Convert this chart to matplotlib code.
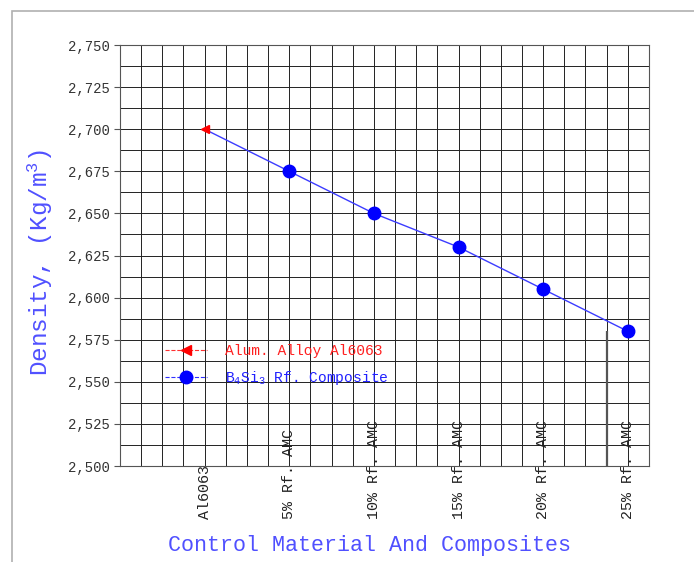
"""
Density of Al6063 and B4Si3 reinforced composites.
"""

import matplotlib
matplotlib.use("Agg")
import matplotlib.pyplot as plt
from matplotlib.patches import Rectangle
from matplotlib.ticker import FuncFormatter
from matplotlib.transforms import blended_transform_factory

# data
categories = ["Al6063", "5% Rf. AMC", "10% Rf. AMC", "15% Rf. AMC",
              "20% Rf. AMC", "25% Rf. AMC"]
cat_pos = [4, 8, 12, 16, 20, 24]
density = [2700, 2675, 2650, 2630, 2605, 2580]  # kg/m3
y_ticks = [2500, 2525, 2550, 2575, 2600, 2625, 2650, 2675, 2700, 2725, 2750]

plt.rcParams["font.family"] = ["Liberation Mono", "DejaVu Sans Mono"]
plt.rcParams["mathtext.default"] = "regular"

fig = plt.figure(figsize=(6.94, 5.62), dpi=100)
ax = fig.add_axes([0.1729, 0.1708, 0.7622, 0.7491])

# outer frame of the drawing
fig.patches.append(Rectangle((12 / 694, -0.1), 1.2, (562 - 11) / 562 + 0.1,
                             transform=fig.transFigure, fill=False,
                             edgecolor="#b0b0b0", lw=1.2))

ax.set_xlim(0, 25)
ax.set_ylim(2500, 2750)
ax.set_xticks(range(0, 26))
ax.set_xticklabels([])
ax.tick_params(axis="x", length=0)
ax.set_yticks(y_ticks)
ax.set_yticks([v + 12.5 for v in y_ticks[:-1]], minor=True)
ax.yaxis.set_major_formatter(FuncFormatter(lambda v, p: "{:,.0f}".format(v)))
ax.tick_params(axis="y", which="major", length=4, color="#555555",
               labelsize=10, labelcolor="#333333")
ax.tick_params(axis="y", which="minor", length=0)
ax.grid(True, which="both", color="#222222", lw=0.7)
ax.set_axisbelow(True)
for s in ax.spines.values():
    s.set_color("#555555")
    s.set_linewidth(0.8)

# stray dimension line
ax.vlines(23, 2500, density[-1], color="#555555", lw=1.6, zorder=3)

ax.plot(cat_pos, density, color="#3c3cff", lw=1, zorder=4)
ax.plot(cat_pos[1:], density[1:], "o", color="#0000ff", ms=9, zorder=5)
ax.plot(cat_pos[:1], density[:1], "<", color="#ff0000", ms=6, zorder=6)

# legend handles
h1, = ax.plot([], [], ls="--", lw=0.8, color="#ff3030", marker="<",
              ms=7, mfc="#ff0000", mec="#ff0000")
h2, = ax.plot([], [], ls="--", lw=0.8, color="#3030ff", marker="o",
              ms=9, mfc="#0000ff", mec="#0000ff")
leg = ax.legend([h1, h2], ["Alum. Alloy Al6063", "B$_4$Si$_3$ Rf. Composite"],
                loc="upper left", bbox_to_anchor=(0.06, 0.32), frameon=False,
                handlelength=2.9, handletextpad=1.25, labelspacing=0.75,
                numpoints=1, fontsize=10.5)
leg.get_texts()[0].set_color("#ff2020")
leg.get_texts()[1].set_color("#2020ff")

# category labels, rotated, starting below the axis
lab_tr = blended_transform_factory(ax.transData, fig.transFigure)
for x, lab in zip(cat_pos, categories):
    ax.text(x, 43 / 562, lab, rotation=90, ha="center", va="bottom",
            fontsize=10.8, color="#222222", transform=lab_tr, zorder=7)

fig.text(369 / 694, (562 - 545) / 562, "Control Material And Composites",
         ha="center", va="center", fontsize=15.6, color="#5050ff")
fig.text(40 / 694, (562 - 262) / 562, "Density, (Kg/m$^3$)", rotation=90,
         ha="center", va="center", fontsize=17.5, color="#5050ff")

fig.savefig("out.png", dpi=100)
